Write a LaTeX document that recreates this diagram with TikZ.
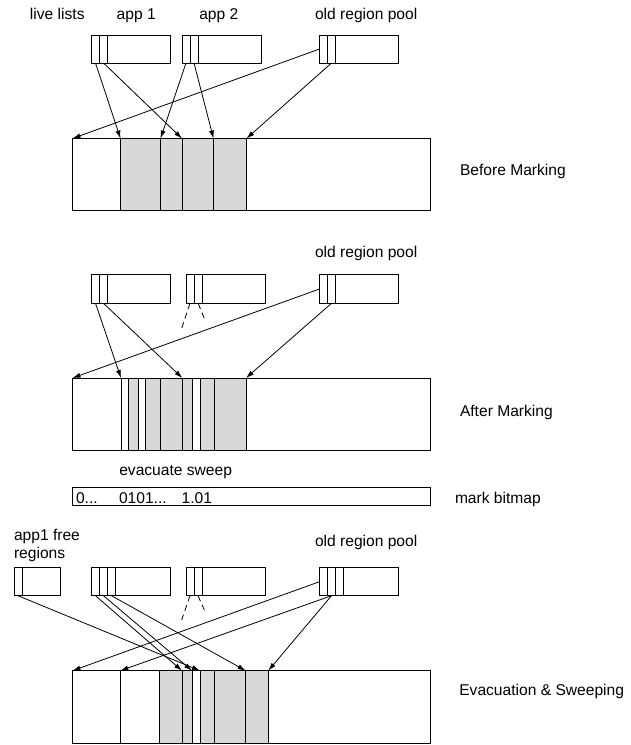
\documentclass[tikz,border=0pt]{standalone}
\usepackage{fontspec}
\setmainfont{Liberation Sans}
\usetikzlibrary{arrows.meta}
\definecolor{cellgray}{RGB}{216,216,216}
\newcommand\mycell[6]{\node[box,fill=#6,minimum width=#4pt,minimum height=#5pt] (#1) at (#2,#3) {};}
\tikzset{
  box/.style={draw, line width=0.9pt, inner sep=0pt, outer sep=0pt, anchor=north west},
  arr/.style={line width=0.8pt, -{Latex[length=8pt,width=5pt]}},
  dsh/.style={line width=0.8pt, dash pattern=on 6pt off 4pt},
  lbl/.style={inner sep=0pt, outer sep=0pt, anchor=base west, font=\fontsize{15.6}{18.5}\selectfont}
}
\begin{document}
\begin{tikzpicture}[x=1pt,y=-1pt]
\useasboundingbox (0,0) rectangle (630,745);
% ---------------- panel 1 : Before Marking
\node[lbl] (l1) at (30,19) {live lists};
\node[lbl] (l2) at (116.7,19) {app 1};
\node[lbl] (l3) at (199.3,19) {app 2};
\node[lbl] (l4) at (315,19) {old region pool};
\mycell{a1}{91.5}{35}{79}{28}{white}
\mycell{a1c1}{91.5}{35}{8}{28}{white}
\mycell{a1c2}{99.5}{35}{8}{28}{white}
\mycell{p2}{182}{35}{79}{28}{white}
\mycell{p2c1}{182}{35}{8}{28}{white}
\mycell{p2c2}{190}{35}{8}{28}{white}
\mycell{o1}{319.5}{35}{79}{28}{white}
\mycell{o1c1}{319.5}{35}{8}{28}{white}
\mycell{o1c2}{327.5}{35}{8}{28}{white}
\mycell{m1}{72.5}{138.5}{357.5}{71.5}{white}
\mycell{g11}{120.5}{138.5}{40}{71.5}{cellgray}
\mycell{g12}{160.5}{138.5}{21.5}{71.5}{cellgray}
\mycell{g13}{182}{138.5}{31.5}{71.5}{cellgray}
\mycell{g14}{213.5}{138.5}{33}{71.5}{cellgray}
\node[lbl] (t1) at (460,175.7) {Before Marking};
\draw[arr] (a1c1.south) -- (g11.north west);
\draw[arr] (a1c2.south) -- (g13.north west);
\draw[arr] (p2c1.south) -- (g12.north west);
\draw[arr] (p2c2.south) -- (g14.north west);
\draw[arr] (o1.west) -- (m1.north west);
\draw[arr] (o1c2.south) -- (g14.north east);
% ---------------- panel 2 : After Marking
\node[lbl] (l5) at (315,257.3) {old region pool};
\mycell{b1}{91.5}{274.7}{79}{28.6}{white}
\mycell{b1c1}{91.5}{274.7}{8}{28.6}{white}
\mycell{b1c2}{99.5}{274.7}{8}{28.6}{white}
\mycell{b2}{186}{274.7}{79}{28.6}{white}
\mycell{b2c1}{186}{274.7}{8}{28.6}{white}
\mycell{b2c2}{194}{274.7}{8.3}{28.6}{white}
\mycell{b3}{319.5}{274.7}{79}{28.6}{white}
\mycell{b3c1}{319.5}{274.7}{8}{28.6}{white}
\mycell{b3c2}{327.5}{274.7}{8}{28.6}{white}
\mycell{m2}{72.5}{378}{357.5}{72.7}{white}
\mycell{c21}{121}{378}{7.3}{72.7}{white}
\mycell{c22}{128.3}{378}{10}{72.7}{cellgray}
\mycell{c23}{138.3}{378}{7.4}{72.7}{white}
\mycell{c24}{145.7}{378}{14.3}{72.7}{cellgray}
\mycell{c25}{160}{378}{22.3}{72.7}{cellgray}
\mycell{c26}{182.3}{378}{10.4}{72.7}{cellgray}
\mycell{c27}{192.7}{378}{7.3}{72.7}{white}
\mycell{c28}{200}{378}{14.3}{72.7}{cellgray}
\mycell{c29}{214.3}{378}{31.7}{72.7}{cellgray}
\node[lbl] (t2) at (460,416) {After Marking};
\draw[arr] (b1c1.south) -- (c21.north west);
\draw[arr] (b1c2.south) -- (c26.north west);
\draw[arr] (b3.west) -- (m2.north west);
\draw[arr] (b3c2.south) -- (c29.north east);
\coordinate (d1) at (181.7,328.3);
\coordinate (d2) at (204.3,318.3);
\draw[dsh] (b2c1.south) -- (d1);
\draw[dsh] (b2c2.south) -- (d2);
% ---------------- bitmap
\node[lbl] (ev) at (119.3,475) {evacuate sweep};
\mycell{bm}{72.5}{487.7}{357.5}{17.3}{white}
\node[lbl] (bt1) at (76,503) {0...};
\node[lbl] (bt2) at (119,503) {0101...};
\node[lbl] (bt3) at (181.7,503) {1.01};
\node[lbl] (mb) at (455,503) {mark bitmap};
% ---------------- panel 3 : Evacuation & Sweeping
\node[lbl] (l6) at (14,540) {app1 free};
\node[lbl] (l7) at (14,558.3) {regions};
\node[lbl] (l8) at (315,546.7) {old region pool};
\mycell{fA}{14}{567.7}{46.3}{28}{white}
\mycell{fAc1}{14}{567.7}{8}{28}{white}
\mycell{fB}{91.5}{567.7}{79}{28}{white}
\mycell{fBc1}{91.5}{567.7}{8}{28}{white}
\mycell{fBc2}{99.5}{567.7}{8}{28}{white}
\mycell{fBc3}{107.5}{567.7}{8}{28}{white}
\mycell{fC}{186}{567.7}{79.3}{28}{white}
\mycell{fCc1}{186}{567.7}{8}{28}{white}
\mycell{fCc2}{194}{567.7}{8}{28}{white}
\mycell{fD}{319.5}{567.7}{79}{28}{white}
\mycell{fDc1}{319.5}{567.7}{8}{28}{white}
\mycell{fDc2}{327.5}{567.7}{8}{28}{white}
\mycell{fDc3}{335.5}{567.7}{8}{28}{white}
\mycell{m3}{72.5}{670.7}{357.5}{72.6}{white}
\mycell{c31}{120.3}{670.7}{39.4}{72.6}{white}
\mycell{c32}{159.7}{670.7}{22.3}{72.6}{cellgray}
\mycell{c33}{182}{670.7}{10}{72.6}{cellgray}
\mycell{c34}{192}{670.7}{8}{72.6}{white}
\mycell{c35}{200}{670.7}{14}{72.6}{cellgray}
\mycell{c36}{214}{670.7}{31.7}{72.6}{cellgray}
\mycell{c37}{245.7}{670.7}{22.6}{72.6}{cellgray}
\node[lbl] (t3) at (459.3,695) {Evacuation \& Sweeping};
\draw[arr] (fAc1.south) -- (c35.north west);
\draw[arr] (fBc1.south) -- (c33.north west);
\draw[arr] (fBc2.south) -- (c34.north west);
\draw[arr] (fBc3.south) -- (c37.north west);
\draw[arr] (fD.west) -- (m3.north west);
\draw[arr] (fDc2.south) -- (c31.north west);
\draw[arr] (fDc2.south) -- (c37.north east);
\coordinate (d3) at (181.7,620);
\coordinate (d4) at (204.3,610);
\draw[dsh] (fCc1.south) -- (d3);
\draw[dsh] (fCc2.south) -- (d4);
\end{tikzpicture}
\end{document}
